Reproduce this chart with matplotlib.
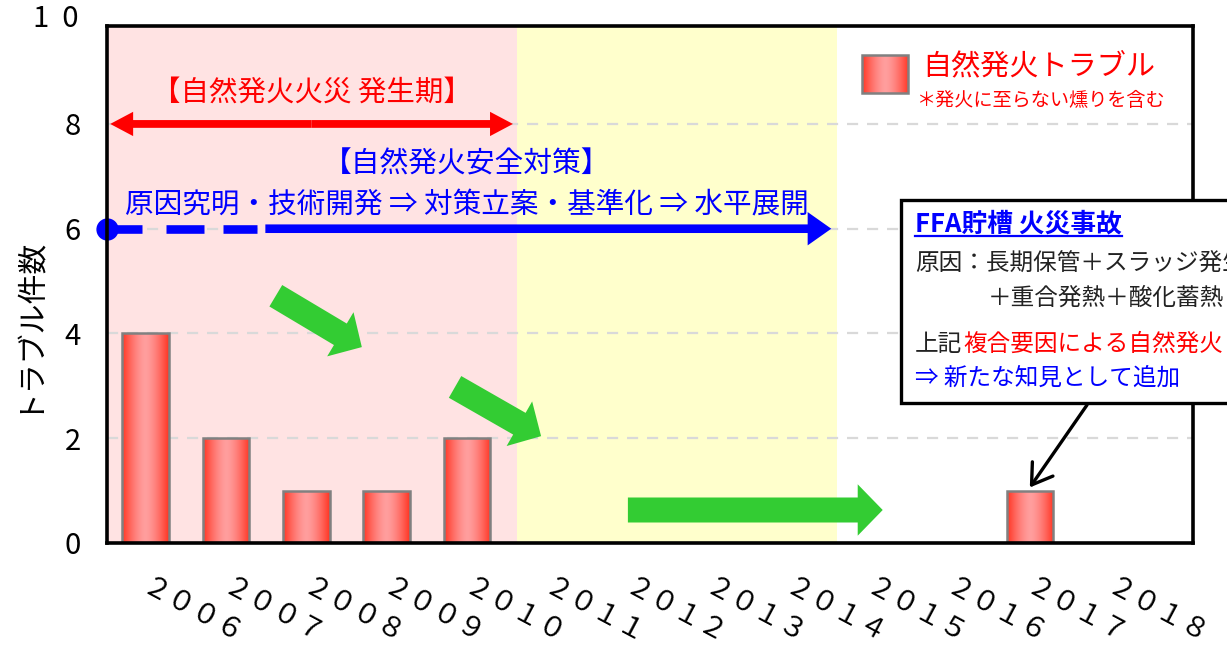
import numpy as np
import matplotlib
matplotlib.use("Agg")
import matplotlib.pyplot as plt
from matplotlib.patches import Rectangle
from matplotlib.lines import Line2D
from matplotlib.transforms import ScaledTranslation

plt.rcParams["font.family"] = ["Noto Sans CJK JP", "DejaVu Sans"]

# ---- data -------------------------------------------------------------
years = ["２００６", "２００７", "２００８", "２００９", "２０１０", "２０１１", "２０１２",
         "２０１３", "２０１４", "２０１５", "２０１６", "２０１７", "２０１８"]
troubles = [4, 2, 1, 1, 2, 0, 0, 0, 0, 0, 0, 1, 0]
y_ticks = [0, 2, 4, 6, 8]
y_tick_labels = ["0", "2", "4", "6", "8"]
y_top_label = "1  0"
y_top_value = 10

# period boundaries on the category axis
fire_period = (-0.48, 4.62)
measure_period = (4.62, 8.60)

# ---- colours ------------------------------------------------------------
PINK = "#FFE3E3"
YELLOW = "#FFFFCC"
GREEN = "#33CC33"
BLUE = "#0000FF"
RED = "#FF0000"
BAR_EDGE = "#808080"

W, H = 1227, 650
fig = plt.figure(figsize=(W / 100, H / 100), dpi=100)
ax = fig.add_axes([107 / W, 1 - 543 / H, 1086 / W, 517 / H])

XLIM = (-0.48, 13.03)
YLIM = (0, 9.87)


def bar_gradient():
    edge = np.array([1.0, 0.20, 0.13])
    centre = np.array([1.0, 0.62, 0.62])
    u = np.linspace(0, 1, 256)
    t = np.abs(2 * u - 1) ** 1.5
    g = centre[None, :] + (edge - centre)[None, :] * t[:, None]
    return g[None, :, :]


GRAD = bar_gradient()

# background periods
ax.axvspan(*fire_period, color=PINK, zorder=0.2, lw=0)
ax.axvspan(*measure_period, color=YELLOW, zorder=0.2, lw=0)

# grid
ax.set_axisbelow(True)
ax.yaxis.grid(True, color="#D9D9D9", linestyle=(0, (5, 4)), linewidth=1.6)
ax.xaxis.grid(False)

# bars with horizontal gradient
idx = np.arange(len(years))
bw = 0.58
nz = [i for i, v in enumerate(troubles) if v > 0]
bars = ax.bar([idx[i] for i in nz], [troubles[i] for i in nz], width=bw,
              facecolor="none", edgecolor=BAR_EDGE, linewidth=1.8, zorder=3)
for b in bars:
    x0 = b.get_x()
    im = ax.imshow(GRAD, extent=(x0, x0 + b.get_width(), 0, b.get_height()),
                   aspect="auto", zorder=2.9, interpolation="bilinear")
    im.set_clip_path(b)

# red double arrow: fire period
red_y = 8
x_a, x_b = fire_period[0] + 0.04, 4.57
mid = (x_a + x_b) / 2
red_style = "simple,head_length=16.5,head_width=17.5,tail_width=5.6"
for end in (x_a, x_b):
    ax.annotate("", xy=(end, red_y), xytext=(mid, red_y),
                arrowprops=dict(arrowstyle=red_style, color=RED, lw=0,
                                shrinkA=0, shrinkB=0, mutation_scale=1),
                zorder=4)
ax.text(mid, 8.6, "【自然発火火災 発生期】", color=RED, fontsize=20.5,
        ha="center", va="center", zorder=4)

# blue arrow: safety measures
blue_y = 6
dash_segments = [(-0.48, -0.05), (0.25, 0.73), (0.96, 1.39)]
for s, e in dash_segments:
    ax.plot([s, e], [blue_y, blue_y], color=BLUE, lw=6.2,
            solid_capstyle="butt", zorder=4, clip_on=False)
ax.plot([XLIM[0]], [blue_y], marker="o", ms=15, color=BLUE, zorder=5,
        clip_on=False)
ax.annotate("", xy=(8.53, blue_y), xytext=(1.49, blue_y),
            arrowprops=dict(arrowstyle="simple,head_length=17,head_width=24,tail_width=6.2",
                            color=BLUE, lw=0, shrinkA=0, shrinkB=0,
                            mutation_scale=1), zorder=4)
ax.text(4.0, 7.22, "【自然発火安全対策】", color=BLUE, fontsize=20.7,
        ha="center", va="center", zorder=4)
ax.text(4.0, 6.45, "原因究明・技術開発 ⇒ 対策立案・基準化 ⇒ 水平展開", color=BLUE,
        fontsize=20.6, ha="center", va="center", zorder=4)

# green trend arrows
green_style = "simple,head_length=18,head_width=37,tail_width=18"
green_arrows = [((1.62, 4.72), (2.69, 3.74)),
                ((3.85, 2.98), (4.92, 2.04)),
                ((6.00, 0.63), (9.17, 0.63))]
for tail, tip in green_arrows:
    ax.annotate("", xy=tip, xytext=tail,
                arrowprops=dict(arrowstyle=green_style, color=GREEN, lw=0,
                                shrinkA=0, shrinkB=0, mutation_scale=1),
                zorder=4)

# legend
sw = Rectangle((0.695, 0.870), 0.043, 0.074, transform=ax.transAxes,
               facecolor="none", edgecolor=BAR_EDGE, lw=1.8, zorder=6)
ax.add_patch(sw)
lim = ax.imshow(GRAD, extent=(0.695, 0.738, 0.870, 0.944), aspect="auto",
                transform=ax.transAxes, zorder=5.9, interpolation="bilinear")
lim.set_clip_path(sw)
fig.text(922 / W, 1 - 66 / H, "自然発火トラブル", color=RED, fontsize=21,
         ha="left", va="center")
fig.text(916 / W, 1 - 101 / H, "＊発火に至らない燻りを含む", color=RED,
         fontsize=13.8, ha="left", va="center")

# axes styling
ax.set_xlim(*XLIM)
ax.set_ylim(*YLIM)
for sp in ax.spines.values():
    sp.set_linewidth(2.6)
    sp.set_color("black")
    sp.set_zorder(5)

ax.set_yticks(y_ticks)
ax.set_yticklabels(y_tick_labels, fontsize=21)
ax.tick_params(axis="y", length=0, pad=19)
ax.text(-0.0265, y_top_value, y_top_label, transform=ax.get_yaxis_transform(),
        fontsize=21, ha="right", va="center", clip_on=False)

ax.set_xticks(idx)
ax.set_xticklabels(years, fontsize=20, rotation=-28, rotation_mode="anchor",
                   ha="center", va="center")
ax.tick_params(axis="x", length=0, pad=0)
offset = ScaledTranslation(0.47, -0.69, fig.dpi_scale_trans)
for lab in ax.get_xticklabels():
    lab.set_transform(lab.get_transform() + offset)

fig.text(26 / W, 1 - 323 / H, "トラブル件数", rotation=90, fontsize=21.5,
         ha="center", va="center")

# incident call-out box
FS = 17.0
box = Rectangle((901 / W, 1 - 403 / H), 0.5, 203 / H, transform=fig.transFigure,
                facecolor="white", edgecolor="black", lw=2.4, zorder=10)
fig.add_artist(box)
title = fig.text(915 / W, 1 - 224 / H, "FFA貯槽 火災事故", color=BLUE,
                 fontsize=18.5, fontweight="bold", ha="left", va="center",
                 zorder=11)
fig.text(915 / W, 1 - 263 / H, "原因：長期保管＋スラッジ発生", color="#222222",
         fontsize=FS, ha="left", va="center", zorder=11)
fig.text(988 / W, 1 - 298 / H, "＋重合発熱＋酸化蓄熱", color="#222222",
         fontsize=FS, ha="left", va="center", zorder=11)
fig.text(915 / W, 1 - 344 / H, "上記", color="#222222", fontsize=FS,
         ha="left", va="center", zorder=11)
fig.text(963 / W, 1 - 344 / H, "複合要因による自然発火", color=RED,
         fontsize=FS, ha="left", va="center", zorder=11)
fig.text(915 / W, 1 - 378 / H, "⇒ 新たな知見として追加", color=BLUE,
         fontsize=FS, ha="left", va="center", zorder=11)

fig.canvas.draw()
bb = title.get_window_extent().transformed(fig.transFigure.inverted())
fig.add_artist(Line2D([bb.x0, bb.x1], [bb.y0 + 0.002, bb.y0 + 0.002],
                      transform=fig.transFigure, color=BLUE, lw=1.6, zorder=11))

# pointer from call-out to the 2017 bar
ax.annotate("", xy=(11, troubles[11] + 0.06), xytext=(1087 / W, 1 - 405 / H),
            textcoords="figure fraction",
            arrowprops=dict(arrowstyle="->,head_length=0.7,head_width=0.45",
                            color="black", lw=2.4, shrinkA=0, shrinkB=0,
                            mutation_scale=20),
            annotation_clip=False, zorder=12)

fig.savefig("out.png", dpi=100)
